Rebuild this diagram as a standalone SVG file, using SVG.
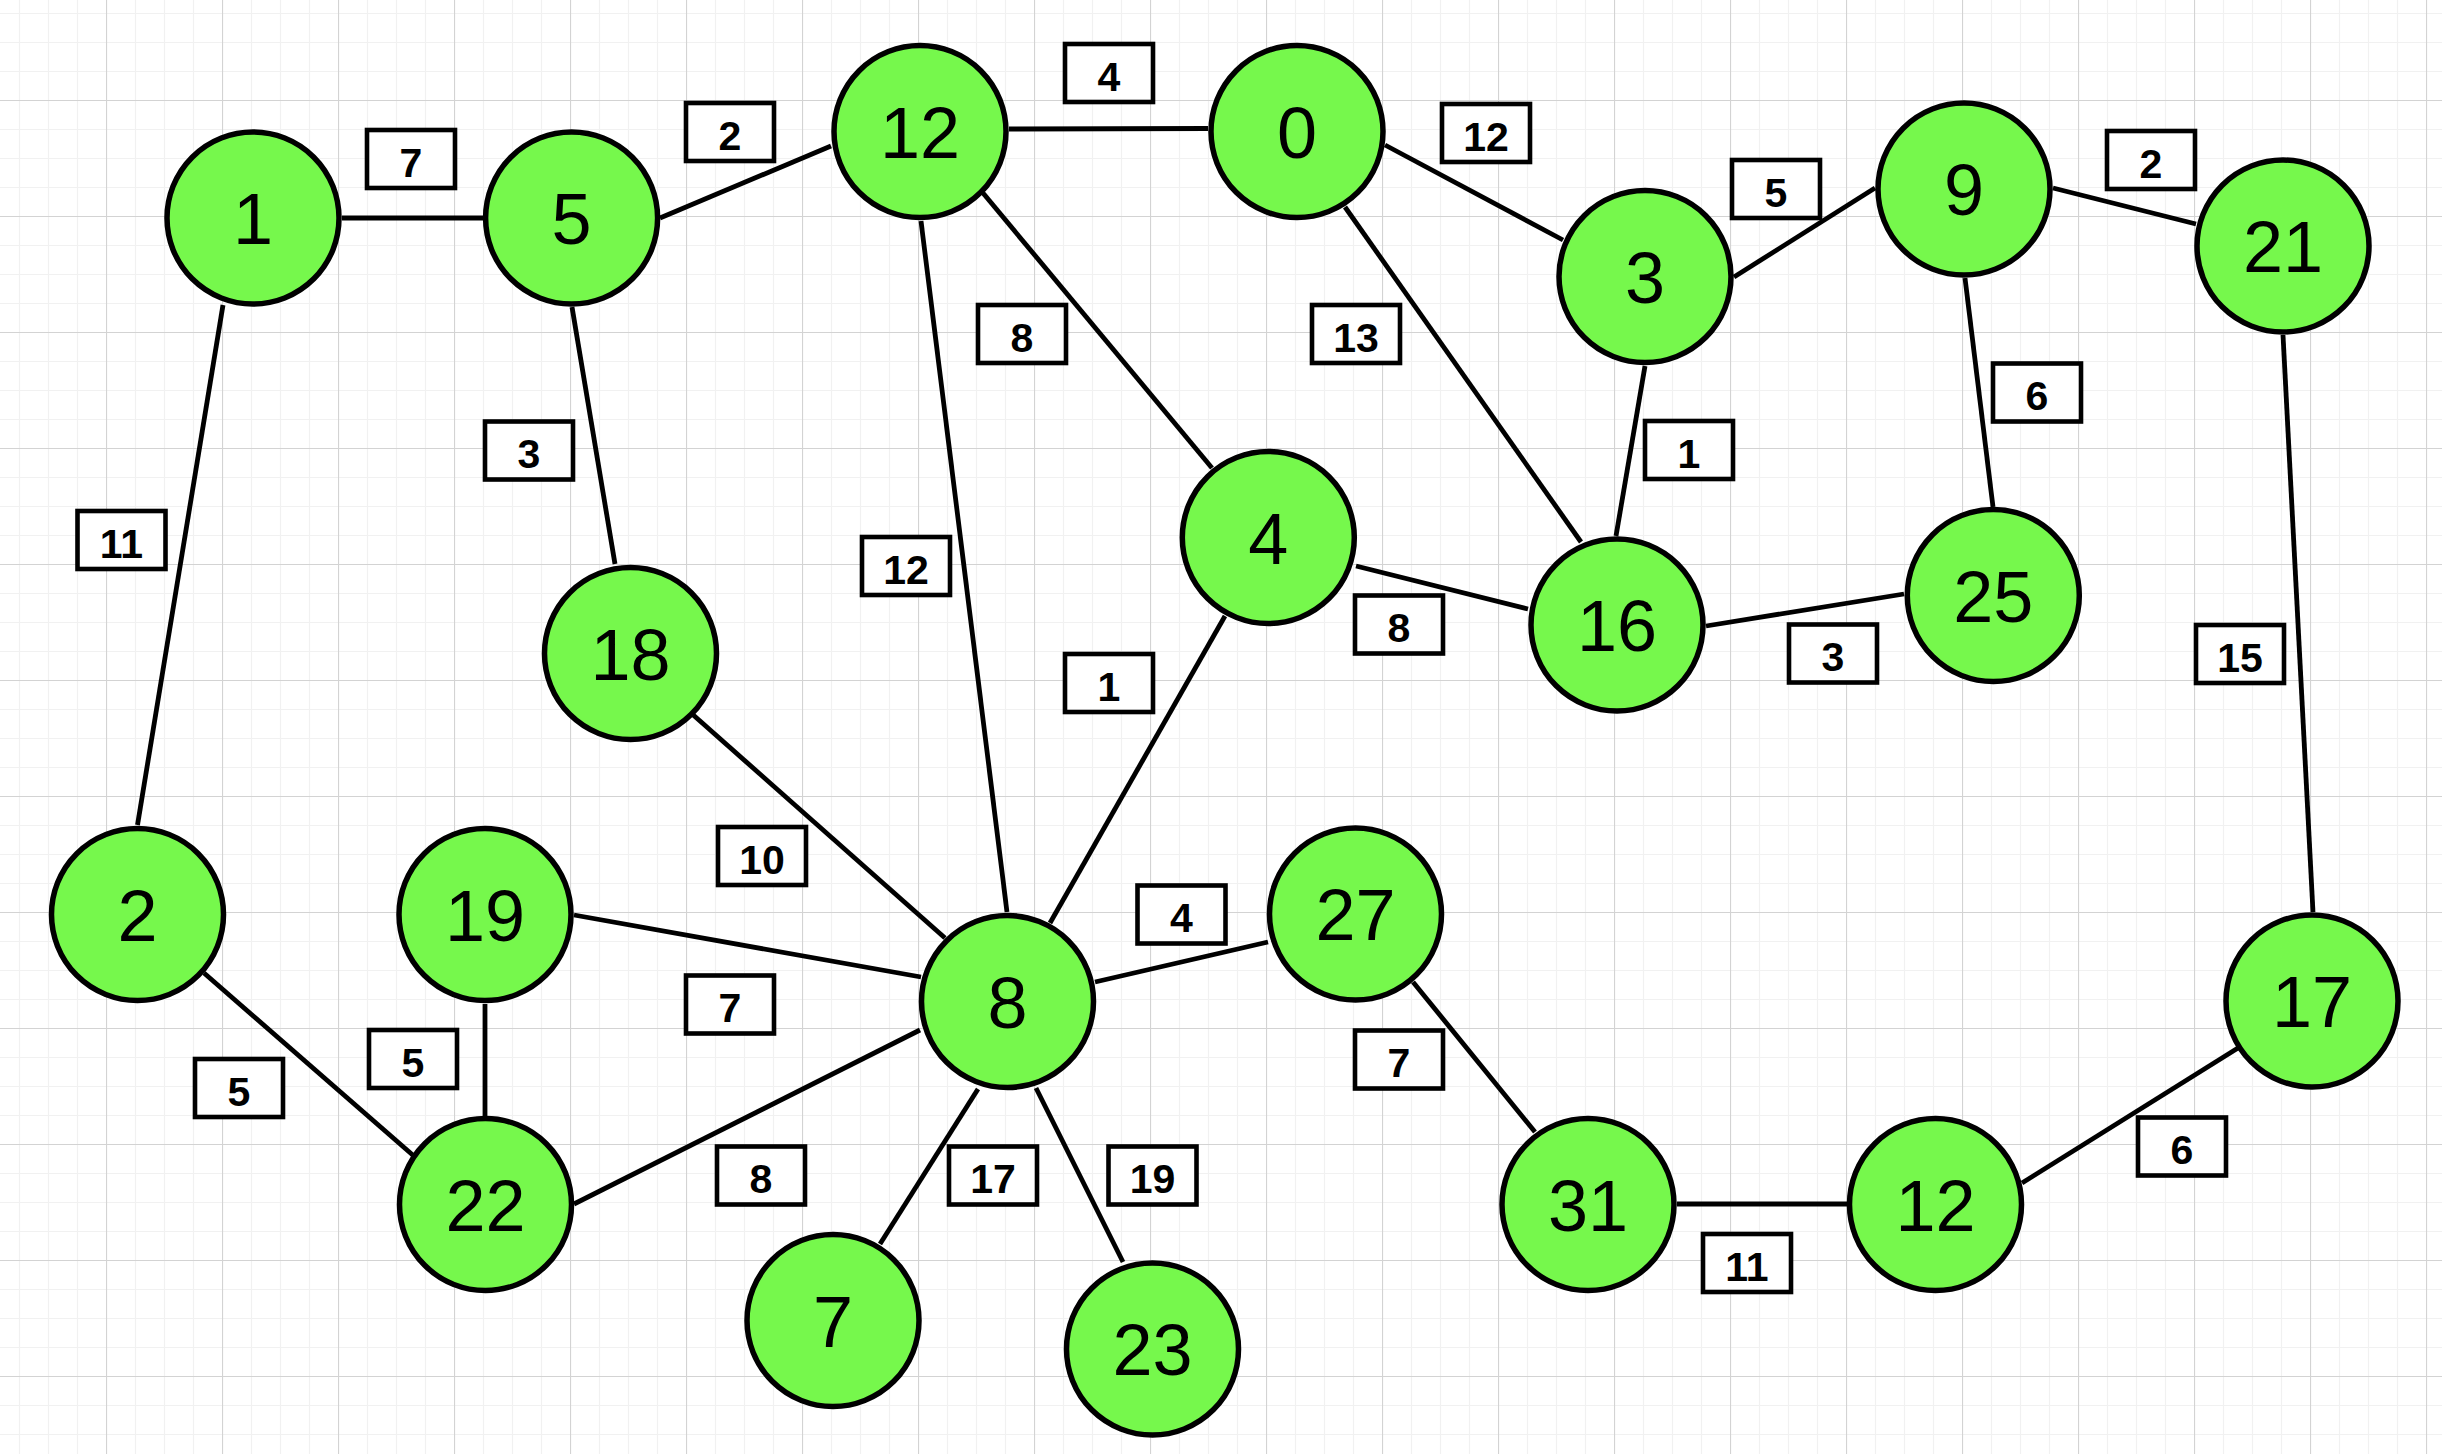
<svg xmlns="http://www.w3.org/2000/svg" width="2442" height="1454" viewBox="0 0 2442 1454">
<defs>
<pattern id="grid" patternUnits="userSpaceOnUse" x="106" y="100" width="116" height="116">
<path d="M29.5 0V116M58.5 0V116M87.5 0V116M0 29.5H116M0 58.5H116M0 87.5H116" stroke="#f1f1f1" stroke-width="1.2" fill="none"/>
<path d="M0.5 0V116M0 0.5H116" stroke="#d3d3d3" stroke-width="1.2" fill="none"/>
</pattern>
<style>
.node circle{fill:#76F84C;stroke:#000;stroke-width:5.5}
.node text{font-family:"Liberation Sans",Arial,sans-serif;font-size:72px;fill:#000;text-anchor:middle}
.edges line{stroke:#000;stroke-width:4.8;stroke-linecap:butt}
.lbl rect{fill:#fff;stroke:#000;stroke-width:4.6}
.lbl text{font-family:"Liberation Sans",Arial,sans-serif;font-size:41px;font-weight:bold;fill:#000;text-anchor:middle}
</style>
</defs>
<rect x="0" y="0" width="2442" height="1454" fill="#fff"/>
<rect x="0" y="0" width="2442" height="1454" fill="url(#grid)"/>
<g id="connectors" class="edges">
<line x1="342" y1="218" x2="483" y2="218"/>
<line x1="660" y1="218" x2="831" y2="146"/>
<line x1="1009" y1="129" x2="1208" y2="128.5"/>
<line x1="983" y1="193" x2="1212" y2="468"/>
<line x1="921" y1="221" x2="1007" y2="912"/>
<line x1="1385" y1="145" x2="1563" y2="240"/>
<line x1="1345" y1="207" x2="1581" y2="542"/>
<line x1="1734" y1="277" x2="1875" y2="188"/>
<line x1="1645" y1="366" x2="1616" y2="536"/>
<line x1="2053" y1="188" x2="2196" y2="224"/>
<line x1="1965" y1="278" x2="1993" y2="507"/>
<line x1="2283" y1="335" x2="2313" y2="912"/>
<line x1="572" y1="307" x2="615" y2="564"/>
<line x1="1356" y1="566" x2="1528" y2="609"/>
<line x1="1706" y1="626" x2="1904" y2="594"/>
<line x1="1225" y1="616" x2="1050" y2="923"/>
<line x1="691" y1="713" x2="945" y2="938"/>
<line x1="574" y1="915" x2="921" y2="977"/>
<line x1="574" y1="1204" x2="920" y2="1030"/>
<line x1="1095" y1="982" x2="1268" y2="942"/>
<line x1="978" y1="1089" x2="880" y2="1244"/>
<line x1="1036" y1="1088" x2="1123" y2="1262"/>
<line x1="1413" y1="982" x2="1535" y2="1132"/>
<line x1="1677" y1="1204" x2="1847" y2="1204"/>
<line x1="2022" y1="1183" x2="2238" y2="1048"/>
<line x1="223" y1="305" x2="137.5" y2="825"/>
<line x1="204" y1="973" x2="415" y2="1157"/>
<line x1="485" y1="1004" x2="485" y2="1116"/>
</g>
<g id="edge-labels" class="lbl">
<g><rect x="367" y="130" width="88" height="58"/><text x="411" y="176.5">7</text></g>
<g><rect x="686" y="103" width="88" height="58"/><text x="730" y="149.5">2</text></g>
<g><rect x="1065" y="44" width="88" height="58"/><text x="1109" y="90.5">4</text></g>
<g><rect x="1442" y="104" width="88" height="58"/><text x="1486" y="150.5">12</text></g>
<g><rect x="1732" y="160" width="88" height="58"/><text x="1776" y="206.5">5</text></g>
<g><rect x="2107" y="131" width="88" height="58"/><text x="2151" y="177.5">2</text></g>
<g><rect x="978" y="305" width="88" height="58"/><text x="1022" y="351.5">8</text></g>
<g><rect x="862" y="537" width="88" height="58"/><text x="906" y="583.5">12</text></g>
<g><rect x="1312" y="305" width="88" height="58"/><text x="1356" y="351.5">13</text></g>
<g><rect x="1645" y="421" width="88" height="58"/><text x="1689" y="467.5">1</text></g>
<g><rect x="1993" y="363.5" width="88" height="58"/><text x="2037" y="410">6</text></g>
<g><rect x="2196" y="625" width="88" height="58"/><text x="2240" y="671.5">15</text></g>
<g><rect x="485" y="421.5" width="88" height="58"/><text x="529" y="468">3</text></g>
<g><rect x="1355" y="595.5" width="88" height="58"/><text x="1399" y="642">8</text></g>
<g><rect x="1789" y="624.5" width="88" height="58"/><text x="1833" y="671">3</text></g>
<g><rect x="1065" y="654" width="88" height="58"/><text x="1109" y="700.5">1</text></g>
<g><rect x="718" y="827" width="88" height="58"/><text x="762" y="873.5">10</text></g>
<g><rect x="686" y="975.5" width="88" height="58"/><text x="730" y="1022">7</text></g>
<g><rect x="717" y="1146.5" width="88" height="58"/><text x="761" y="1193">8</text></g>
<g><rect x="1137.5" y="885.5" width="88" height="58"/><text x="1181.5" y="932">4</text></g>
<g><rect x="949" y="1146.5" width="88" height="58"/><text x="993" y="1193">17</text></g>
<g><rect x="1108.5" y="1146.5" width="88" height="58"/><text x="1152.5" y="1193">19</text></g>
<g><rect x="1355" y="1030.5" width="88" height="58"/><text x="1399" y="1077">7</text></g>
<g><rect x="1703" y="1234" width="88" height="58"/><text x="1747" y="1280.5">11</text></g>
<g><rect x="2138" y="1117.5" width="88" height="58"/><text x="2182" y="1164">6</text></g>
<g><rect x="77.5" y="511" width="88" height="58"/><text x="121.5" y="557.5">11</text></g>
<g><rect x="195" y="1059" width="88" height="58"/><text x="239" y="1105.5">5</text></g>
<g><rect x="369" y="1030" width="88" height="58"/><text x="413" y="1076.5">5</text></g>
</g>
<g id="node-1" class="node"><circle cx="253" cy="218" r="86"/><text x="253" y="244">1</text></g>
<g id="node-5" class="node"><circle cx="571.6" cy="218" r="86"/><text x="571.6" y="244">5</text></g>
<g id="node-12a" class="node"><circle cx="920" cy="131.5" r="86"/><text x="920" y="157.5">12</text></g>
<g id="node-0" class="node"><circle cx="1297" cy="131.5" r="86"/><text x="1297" y="157.5">0</text></g>
<g id="node-3" class="node"><circle cx="1645" cy="276.5" r="86"/><text x="1645" y="302.5">3</text></g>
<g id="node-9" class="node"><circle cx="1964" cy="189" r="86"/><text x="1964" y="215">9</text></g>
<g id="node-21" class="node"><circle cx="2283" cy="246" r="86"/><text x="2283" y="272">21</text></g>
<g id="node-4" class="node"><circle cx="1268.3" cy="537.5" r="86"/><text x="1268.3" y="563.5">4</text></g>
<g id="node-16" class="node"><circle cx="1617" cy="625" r="86"/><text x="1617" y="651">16</text></g>
<g id="node-25" class="node"><circle cx="1993.3" cy="595.5" r="86"/><text x="1993.3" y="621.5">25</text></g>
<g id="node-18" class="node"><circle cx="630.5" cy="653.5" r="86"/><text x="630.5" y="679.5">18</text></g>
<g id="node-2" class="node"><circle cx="137.5" cy="914.5" r="86"/><text x="137.5" y="940.5">2</text></g>
<g id="node-19" class="node"><circle cx="485" cy="914.5" r="86"/><text x="485" y="940.5">19</text></g>
<g id="node-8" class="node"><circle cx="1007.5" cy="1001.5" r="86"/><text x="1007.5" y="1027.5">8</text></g>
<g id="node-27" class="node"><circle cx="1355.5" cy="914" r="86"/><text x="1355.5" y="940">27</text></g>
<g id="node-17" class="node"><circle cx="2312" cy="1001" r="86"/><text x="2312" y="1027">17</text></g>
<g id="node-22" class="node"><circle cx="485.5" cy="1204.5" r="86"/><text x="485.5" y="1230.5">22</text></g>
<g id="node-7" class="node"><circle cx="833" cy="1320.5" r="86"/><text x="833" y="1346.5">7</text></g>
<g id="node-23" class="node"><circle cx="1152.5" cy="1349" r="86"/><text x="1152.5" y="1375">23</text></g>
<g id="node-31" class="node"><circle cx="1588" cy="1204.5" r="86"/><text x="1588" y="1230.5">31</text></g>
<g id="node-12b" class="node"><circle cx="1935.5" cy="1204.5" r="86"/><text x="1935.5" y="1230.5">12</text></g>
</svg>
